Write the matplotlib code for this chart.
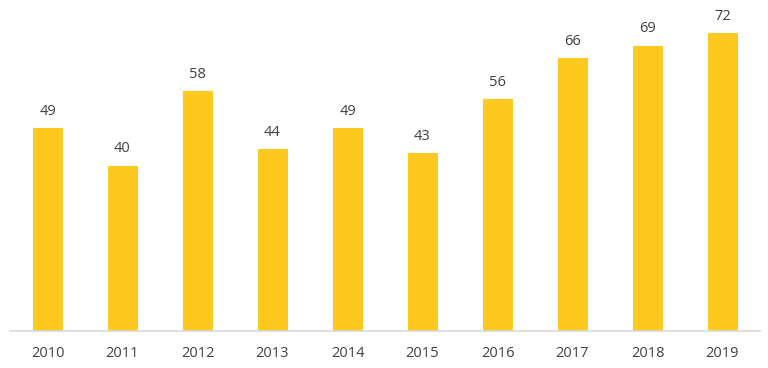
import matplotlib
matplotlib.use("Agg")
import matplotlib.pyplot as plt

years = ["2010", "2011", "2012", "2013", "2014", "2015", "2016", "2017", "2018", "2019"]
values = [49, 40, 58, 44, 49, 43, 56, 66, 69, 72]

plt.rcParams['font.family'] = ['Open Sans', 'DejaVu Sans']
fig = plt.figure(figsize=(7.68, 3.68), dpi=100)
ax = fig.add_axes([10/768, 37/368, 750/768, 331/368])
x = list(range(len(years)))
bars = ax.bar(x, values, width=0.4, color="#FFC81E", zorder=2)
for xi, v in zip(x, values):
    ax.text(xi, v + 2.2, str(v), ha="center", va="bottom", fontsize=10.5, color="#404040")
ax.set_xlim(-0.5, len(years) - 0.5)
ax.set_ylim(0, 80)
ax.set_xticks(x)
ax.set_xticklabels(years, fontsize=10.5, color="#404040")
ax.tick_params(axis="x", length=0, pad=11)
ax.set_yticks([])
for s in ["top", "right", "left"]:
    ax.spines[s].set_visible(False)
ax.spines["bottom"].set_color("#D9D9D9")
ax.spines["bottom"].set_linewidth(1.2)
fig.savefig("out.png", dpi=100)
